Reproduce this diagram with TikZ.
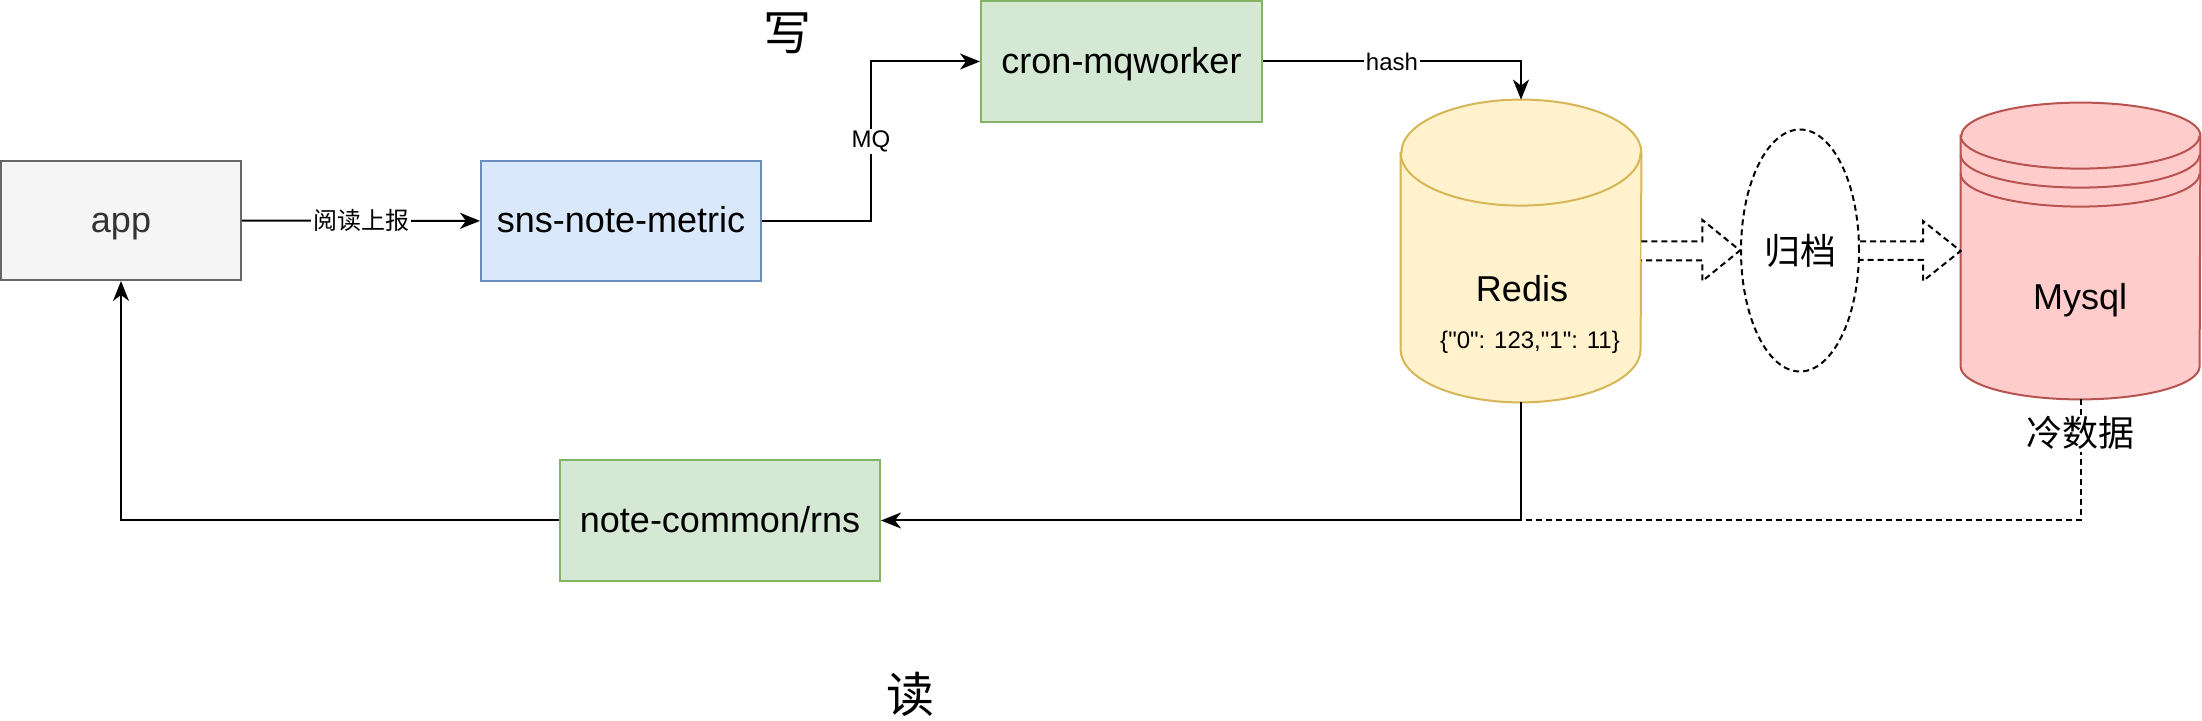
\documentclass[tikz,border=0pt]{standalone}
\usepackage{fontspec}
\setmainfont{Liberation Sans}
\newfontfamily\rawsans{Liberation Sans}
\newfontfamily\cjk{Noto Sans CJK SC}
\usetikzlibrary{arrows.meta,calc,shapes.geometric}
\definecolor{appfill}{HTML}{F5F5F5}
\definecolor{appst}{HTML}{666666}
\definecolor{apptext}{HTML}{333333}
\definecolor{bluefill}{HTML}{DAE8FC}
\definecolor{bluest}{HTML}{6C8EBF}
\definecolor{greenfill}{HTML}{D5E8D4}
\definecolor{greenst}{HTML}{82B366}
\definecolor{redisfill}{HTML}{FFF2CC}
\definecolor{redisst}{HTML}{D6B656}
\definecolor{mysqlfill}{HTML}{FFCCCC}
\definecolor{mysqlst}{HTML}{B85450}
\begin{document}
\begin{tikzpicture}[x=0.5pt,y=-0.5pt,
  box/.style={rectangle, line width=1pt, inner sep=0pt, text height=13pt, text depth=1pt, font=\fontsize{18pt}{21pt}\selectfont},
  conn/.style={line width=1pt, -{Stealth[length=10pt,width=8pt,inset=3pt]}},
  dline/.style={line width=1pt, dash pattern=on 3pt off 2pt},
  lbl/.style={fill=white, inner sep=1pt, font=\fontsize{12pt}{14pt}\selectfont},
  cjklbl/.style={fill=white, inner sep=1pt, font=\cjk\fontsize{18pt}{21pt}\selectfont},
  big/.style={inner sep=0pt, font=\cjk\fontsize{24pt}{28pt}\selectfont},
  mid/.style={inner sep=0pt, text height=13pt, text depth=1pt, font=\fontsize{18pt}{21pt}\selectfont},
  small/.style={inner sep=0pt, text height=9pt, text depth=2.5pt, font=\rawsans\fontsize{12pt}{14pt}\selectfont},
  blk/.style={draw, fill=white, line width=1pt, dash pattern=on 3pt off 2pt, line join=miter}]
\useasboundingbox (0,0) rectangle (2202,721);
\fill[white] (0,0) rectangle (2202,721);

% boxes
\node[box, draw=appst, fill=appfill, text=apptext, minimum width=120pt, minimum height=59.5pt] (app) at (121,220.5) {app};
\node[box, draw=bluest, fill=bluefill, minimum width=140pt, minimum height=60pt] (sns) at (621,221) {sns-note-metric};
\node[box, draw=greenst, fill=greenfill, minimum width=140.5pt, minimum height=60.5pt] (cron) at (1121.5,61.5) {cron-mqworker};
\node[box, draw=greenst, fill=greenfill, minimum width=160pt, minimum height=60.5pt] (note) at (720,520.5) {note-common/rns};

% cylinder frames
\node[rectangle, draw=none, inner sep=0pt, minimum width=120pt, minimum height=151pt] (redis) at (1521,251) {};
\node[rectangle, draw=none, inner sep=0pt, minimum width=119.5pt, minimum height=148pt] (mysql) at (2080.5,251) {};

% Redis cylinder
\path[draw=redisst, fill=redisfill, line width=1pt]
  ($(redis.north west)+(0,53)$) -- ($(redis.south west)+(0,-53)$)
  arc[start angle=180,end angle=360,x radius=60pt,y radius=26.5pt]
  -- ($(redis.north east)+(0,53)$)
  arc[start angle=0,end angle=180,x radius=60pt,y radius=26.5pt] -- cycle;
\draw[redisst, line width=1pt] ($(redis.north west)+(0,53)$)
  arc[start angle=180,end angle=360,x radius=60pt,y radius=26.5pt];

% Mysql cylinder
\path[draw=mysqlst, fill=mysqlfill, line width=1pt]
  ($(mysql.north west)+(0,33)$) -- ($(mysql.south west)+(0,-33)$)
  arc[start angle=180,end angle=360,x radius=59.75pt,y radius=16.5pt]
  -- ($(mysql.north east)+(0,33)$)
  arc[start angle=0,end angle=180,x radius=59.75pt,y radius=16.5pt] -- cycle;
\draw[mysqlst, line width=1pt] ($(mysql.north west)+(0,33)$)
  arc[start angle=180,end angle=360,x radius=59.75pt,y radius=16.5pt];
\draw[mysqlst, line width=1pt] ($(mysql.north west)+(0,52)$)
  arc[start angle=180,end angle=360,x radius=59.75pt,y radius=16.5pt];
\draw[mysqlst, line width=1pt] ($(mysql.north west)+(0,71)$)
  arc[start angle=180,end angle=360,x radius=59.75pt,y radius=16.5pt];

% texts in cylinders
\node[mid] (redislbl) at (1522,290) {Redis};
\node[small] (rediskv) at (1530,342.5) {\{"0": 123,"1": 11\}};
\node[mid] (mysqllbl) at (2080,298) {Mysql};

% archive ellipse
\node[ellipse, draw, dline, fill=white, inner sep=0pt, minimum width=59pt, minimum height=121pt,
      font=\cjk\fontsize{18pt}{21pt}\selectfont] (arch) at (1800,250.5) {归档};

% block arrows
\draw[blk] ($(redis.east)+(0,-9.5)$) -- ++(61,0) -- ++(0,-21.5) -- (arch.west)
  -- ($(redis.east)+(61,30)$) -- ++(0,-20.5) -- ($(redis.east)+(0,9.5)$);
\draw[blk] ($(arch.east)+(0,-9)$) -- ++(63,0) -- ++(0,-20.5) -- (mysql.west)
  -- ($(arch.east)+(63,30.5)$) -- ++(0,-21) -- ($(arch.east)+(0,9.5)$);

% titles
\node[big] (write) at (787,33) {写};
\node[big] (read) at (910,694) {读};

% connectors
\coordinate (mqc) at (871,221);
\draw[conn] (app) -- node[lbl]{\cjk 阅读上报} (sns);
\draw[conn] (sns.east) -- (mqc) |- node[lbl,pos=0.25]{MQ} (cron.west);
\draw[conn] (cron.east) -| node[lbl,pos=0.25]{hash} (redis.north);
\draw[conn] (redis.south) |- (note.east);
\draw[dline] (mysql.south) |- node[cjklbl,pos=0.14]{冷数据} (redis.south |- note.east);
\draw[conn] (note.west) -| (app.south);
\end{tikzpicture}
\end{document}
